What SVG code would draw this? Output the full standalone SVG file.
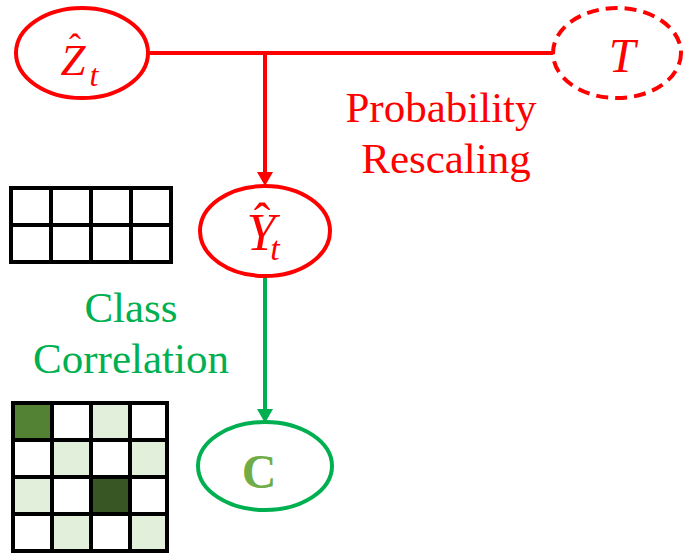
<svg xmlns="http://www.w3.org/2000/svg" width="685" height="554" viewBox="0 0 685 554">
<style>
.red{fill:none;stroke:#FF0000;stroke-width:4}
.grn{fill:none;stroke:#00B050;stroke-width:4}
.math{font-family:"Liberation Serif","DejaVu Serif",serif;fill:#FF0000;text-anchor:middle}
.it{font-style:italic}
.lbl{font-family:"Liberation Serif","Times New Roman",serif;font-size:43px;text-anchor:middle}
.grid{stroke:#000;stroke-width:4}
.w{fill:#fff}.l{fill:#E2EFDA}.d1{fill:#548235}.d2{fill:#375623}
</style>
<g id="connectors">
<path class="red" d="M149,53 H553"/>
<path class="red" d="M265,53 V176"/>
<path d="M257,172 L273,172 L265,186 z" fill="#FF0000"/>
<path class="grn" d="M265,277 V412"/>
<path d="M257,409 L273,409 L265,423 z" fill="#00B050"/>
</g>
<g id="Z">
<ellipse class="red" cx="82" cy="53" rx="66" ry="45"/>
<text class="math"><tspan class="it" x="73" y="75" font-size="45">Z</tspan><tspan x="75" y="59" font-size="36">ˆ</tspan><tspan class="it" x="94" y="86" font-size="32">t</tspan></text>
</g>
<g id="T">
<ellipse class="red" cx="617" cy="53" rx="64" ry="45" stroke-dasharray="12,7"/>
<text class="math it" x="622" y="72" font-size="48">T</text>
</g>
<g id="Y">
<ellipse class="red" cx="265" cy="231" rx="65" ry="45"/>
<text class="math"><tspan class="it" x="261" y="250" font-size="52">Y</tspan><tspan x="262" y="238" font-size="50">ˆ</tspan><tspan class="it" x="275" y="260" font-size="34">t</tspan></text>
</g>
<g id="C">
<ellipse class="grn" cx="265" cy="466" rx="67" ry="44"/>
<text x="259" y="488" font-family="Liberation Serif,serif" font-weight="bold" font-size="48" fill="#70AD47" text-anchor="middle">C</text>
</g>
<g id="labels">
<text class="lbl" x="441" y="122" fill="#FF0000">Probability</text>
<text class="lbl" x="446" y="173" fill="#FF0000">Rescaling</text>
<text class="lbl" x="131" y="322" fill="#00B050">Class</text>
<text class="lbl" x="131" y="373" fill="#00B050">Correlation</text>
</g>
<g id="grid1" class="grid">
<rect x="11" y="188" width="160" height="74" class="w"/>
<path d="M51,188V262M91,188V262M131,188V262M11,225H171" fill="none"/>
</g>
<g id="grid2" class="grid">
<rect x="13" y="403" width="39" height="37" class="d1"/>
<rect x="52" y="403" width="39" height="37" class="w"/>
<rect x="91" y="403" width="39" height="37" class="l"/>
<rect x="130" y="403" width="37" height="37" class="w"/>
<rect x="13" y="440" width="39" height="37" class="w"/>
<rect x="52" y="440" width="39" height="37" class="l"/>
<rect x="91" y="440" width="39" height="37" class="w"/>
<rect x="130" y="440" width="37" height="37" class="l"/>
<rect x="13" y="477" width="39" height="37" class="l"/>
<rect x="52" y="477" width="39" height="37" class="w"/>
<rect x="91" y="477" width="39" height="37" class="d2"/>
<rect x="130" y="477" width="37" height="37" class="w"/>
<rect x="13" y="514" width="39" height="37" class="w"/>
<rect x="52" y="514" width="39" height="37" class="l"/>
<rect x="91" y="514" width="39" height="37" class="w"/>
<rect x="130" y="514" width="37" height="37" class="l"/>
</g>
</svg>
